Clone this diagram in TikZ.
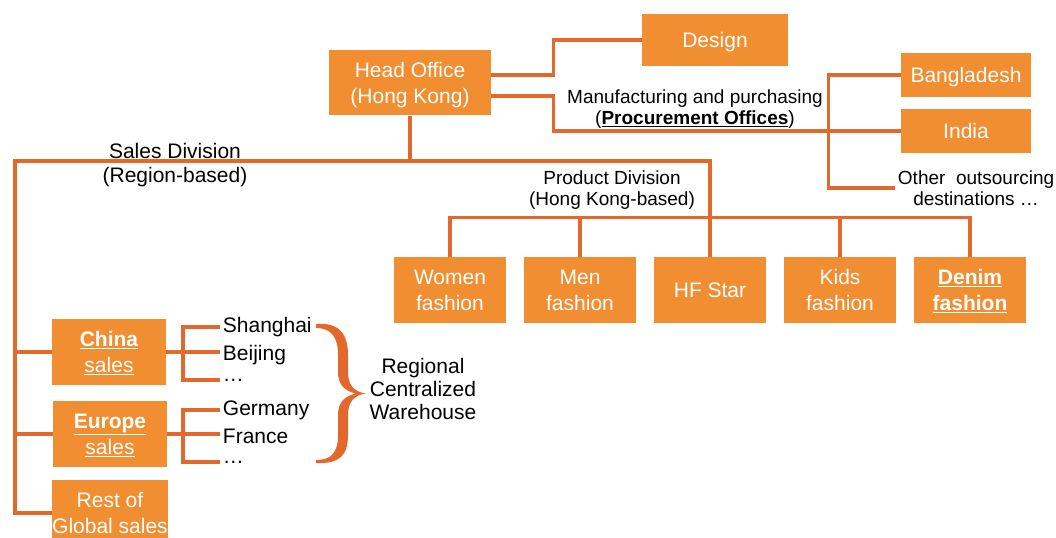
\documentclass[tikz,border=0pt]{standalone}
\usepackage{fontspec}
\setmainfont{Liberation Sans}
\usetikzlibrary{calc}
\definecolor{mfill}{RGB}{242, 142, 50}
\definecolor{mline}{RGB}{226, 104, 44}
\tikzset{box/.style = {fill = mfill, text = white, inner sep = 0, align = center, text depth = 0pt, minimum width = 84pt, minimum height = 48.75pt, font = \fontsize{15.75}{19.5}\selectfont}}
\tikzset{link/.style = {draw = mline, line width = 2.4pt}}
\tikzset{lbl/.style = {align = center, inner sep = 2pt, font = \fontsize{14.25}{15.75}\selectfont}}
\tikzset{city/.style = {anchor = west, inner sep = 2pt, font = \fontsize{15.75}{18}\selectfont}}

\begin{document}
\begin{tikzpicture}[x = 0.75pt, y = -0.75pt]
    \useasboundingbox (0, 0) rectangle (1056, 538);

    \node [box, minimum width = 121.5pt] (ho) at (410, 83) {Head Office\\(Hong Kong)};
    \node [box, minimum width = 109.5pt, minimum height = 39pt] (design) at (715, 40) {Design};
    \node [box, minimum width = 97.5pt, minimum height = 33pt] (bang) at (966, 75) {Bangladesh};
    \node [box, minimum width = 97.5pt, minimum height = 33pt] (india) at (966, 131) {India};
    \node [lbl, anchor = west] (other) at (895, 188) {Other\ \ outsourcing\\destinations …};
    \node [lbl] (proc) at (695, 109) {Manufacturing and purchasing\\(\underline{\textbf{Procurement Offices}})};

    \node [box] (women) at (450, 290) {Women\\fashion};
    \node [box] (men) at (580, 290) {Men\\fashion};
    \node [box] (hfstar) at (710, 290) {HF Star};
    \node [box] (kids) at (840, 290) {Kids\\fashion};
    \node [box] (denim) at (970, 290) {\underline{\textbf{Denim}}\\\underline{\textbf{fashion}}};

    \node [lbl, font = \fontsize{15.75}{18}\selectfont] (sales) at (175, 165) {Sales Division\\(Region-based)};
    \node [lbl] (prod) at (612, 190) {Product Division\\(Hong Kong-based)};

    \node [box, minimum width = 85.5pt, minimum height = 49.5pt] (china) at (109, 352) {\underline{\textbf{China}}\\\underline{sales}};
    \node [box, minimum width = 85.5pt, minimum height = 49.5pt] (europe) at (110, 434) {\underline{\textbf{Europe}}\\\underline{sales}};
    \node [box, minimum width = 85.5pt, minimum height = 49.5pt] (rest) at (110, 513) {Rest of\\Global sales};

    \node [city] (shanghai) at (220, 327) {Shanghai};
    \node [city] (beijing) at (220, 355) {Beijing};
    \node [city] (dots1) at (220, 380) {…};
    \node [city] (germany) at (220, 410) {Germany};
    \node [city] (france) at (220, 436) {France};
    \node [city] (dots2) at (220, 462) {…};
    \node [lbl, font = \fontsize{15.75}{17.6}\selectfont] (wh) at (423, 389) {Regional\\Centralized\\Warehouse};

    \draw [link] ($(ho.east) + (0, -8)$) -| ($(design.west) + (-88, 0)$) -- (design.west);
    \draw [link] ($(ho.east) + (0, 13)$) -| ($(india.west) + (-347, 0)$) -- (india.west);
    \draw [link] (bang.west) -- ++(-72, 0) |- (other.west);

    \coordinate (hub) at (410, 161);
    \coordinate (sbus) at (15, 161);
    \draw [link] (ho.south) -- (hub);
    \draw [link] (hub) -| (hfstar.north);
    \draw [link] (women.north) -- ++(0, -40) -| (denim.north);
    \foreach \n in {men, kids}
        \draw [link] (\n.north) -- ++(0, -40);

    \draw [link] (hub) -- (sbus) |- (rest.west);
    \draw [link] (china.west) -- (china.west -| sbus);
    \draw [link] (europe.west) -- (europe.west -| sbus);

    \draw [link] (china.east) -- (china.east -| beijing.west);
    \draw [link] (shanghai.west) -- ++(-37, 0) |- (dots1.west);
    \draw [link] (europe.east) -- (europe.east -| france.west);
    \draw [link] (germany.west) -- ++(-37, 0) |- (dots2.west);

    \fill [mline] (316, 324) .. controls (340, 322) and (348, 335) .. (348, 355)
        -- (348, 372) .. controls (348, 385) and (354, 392) .. (366, 393.5)
        .. controls (354, 395) and (348, 402) .. (348, 415)
        -- (348, 435) .. controls (348, 455) and (340, 464) .. (316, 463)
        -- (316, 460) .. controls (332, 460) and (338, 452) .. (338, 435)
        -- (338, 415) .. controls (338, 403) and (344, 396) .. (356, 393.5)
        .. controls (344, 391) and (338, 384) .. (338, 372)
        -- (338, 355) .. controls (338, 338) and (332, 328) .. (316, 328) -- cycle;
  \end{tikzpicture}
\end{document}
